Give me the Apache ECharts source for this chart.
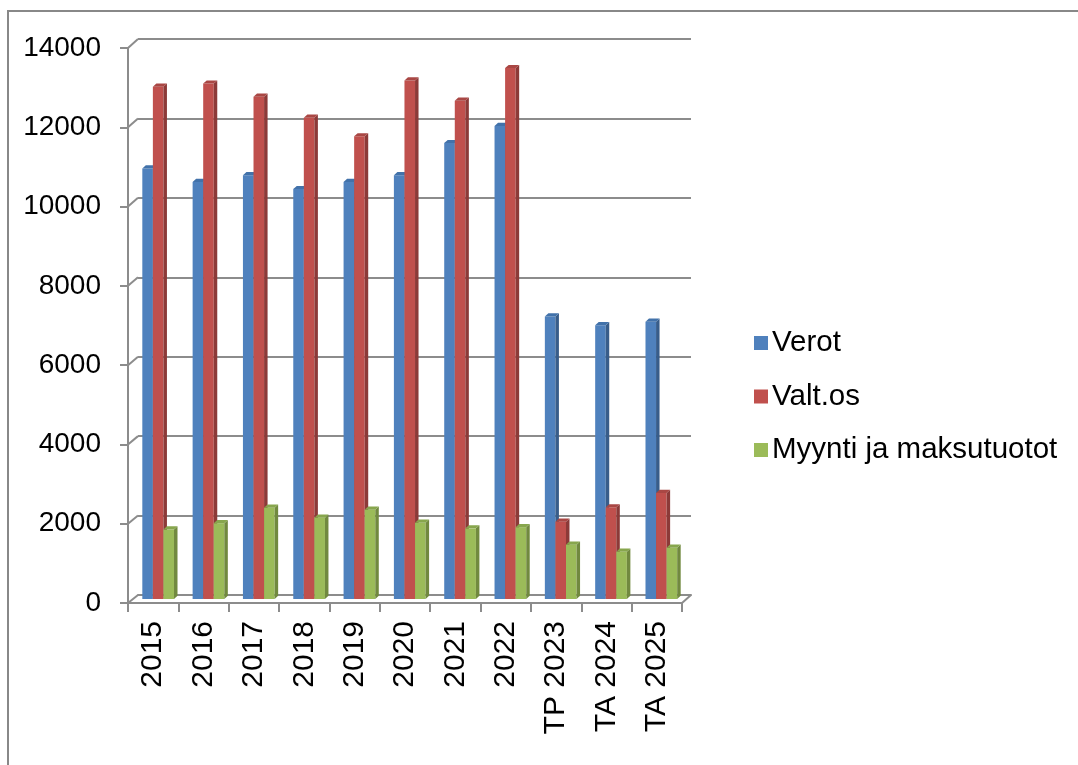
<!DOCTYPE html>
<html><head><meta charset="utf-8">
<script src="https://cdn.jsdelivr.net/npm/echarts@6/dist/echarts.min.js"></script>
<style>html,body{margin:0;padding:0;background:#fff}#c{width:1078px;height:765px}</style>
</head><body><div id="c"></div>
<script>
const categories = ['2015','2016','2017','2018','2019','2020','2021','2022','TP 2023','TA 2024','TA 2025'];
const seriesNames = ['Verot','Valt.os','Myynti ja maksutuotot'];
const verot = [10850, 10510, 10680, 10330, 10510, 10680, 11490, 11920, 7120, 6900, 6990];
const valtos = [12910, 12990, 12660, 12130, 11660, 13070, 12560, 13380, 1950, 2310, 2670];
const myynti = [1750, 1910, 2300, 2050, 2250, 1920, 1780, 1810, 1370, 1190, 1290];
const yTicks = [0, 2000, 4000, 6000, 8000, 10000, 12000, 14000];

const colors = ['#4F81BD', '#C0504D', '#9BBB59'];
const sides = ['#385D8A', '#8C3A38', '#71893F'];
const tops = ['#4272AA', '#A94744', '#87A64D'];
const FONT = '"Liberation Sans", Arial, sans-serif';

// grids: 0 front axes, 1 back wall, 2 bars (mid depth)
const G = [
  {left:128, top:48, right:1078-682, bottom:765-603},
  {left:138, top:39, right:1078-691, bottom:765-595},
  {left:133, top:43.5, right:1078-686.5, bottom:765-599}
];
const yMin = yTicks[0], yMax = yTicks[yTicks.length-1], yInt = yTicks[1]-yTicks[0];

function bar3d(idx, name, vals) {
  return {
    type:'custom', name, xAxisIndex:2, yAxisIndex:2,
    data: vals.map((v,i)=>[i,v]),
    encode:{x:0, y:1},
    itemStyle:{color:colors[idx]},
    renderItem(params, api){
      const i = api.value(0), v = api.value(1);
      const c = api.coord([i, v]);
      const b = api.coord([i, 0]);
      const band = api.size([1, 0])[0];
      const w = band * 0.21;
      const d = 3.5, dy = 3.2;
      const x = c[0] - 1.5*w + idx*w;
      const y = c[1], yb = b[1];
      return {type:'group', children:[
        {type:'rect', shape:{x:x, y:y, width:w, height:yb-y}, style:{fill:colors[idx]}},
        {type:'polygon', shape:{points:[[x+w,y],[x+w+d,y-dy],[x+w+d,yb-dy],[x+w,yb]]}, style:{fill:sides[idx]}},
        {type:'polygon', shape:{points:[[x,y],[x+w,y],[x+w+d,y-dy],[x+d,y-dy]]}, style:{fill:tops[idx]}}
      ]};
    }
  };
}

const chart = echarts.init(document.getElementById('c'), null, {renderer:'canvas'});
const gridLineColor = '#8C8C8C';
const option = {
  animation:false,
  color: colors,
  textStyle:{fontFamily:FONT},
  grid: G.map(g=>Object.assign({containLabel:false}, g)),
  legend:{
    orient:'vertical', left:749, top:323, itemGap:23.5,
    itemWidth:14, itemHeight:14, icon:'rect',
    textStyle:{fontFamily:FONT, fontSize:29.5, color:'#000', lineHeight:28, padding:[0,0,0,-1]},
    data: seriesNames
  },
  xAxis:[
    {type:'category', gridIndex:0, data:categories, boundaryGap:true,
     axisLine:{show:true, lineStyle:{color:gridLineColor, width:2}},
     axisTick:{show:true, length:9, lineStyle:{color:gridLineColor, width:2}},
     axisLabel:{rotate:90, margin:18, fontSize:30, color:'#000', fontFamily:FONT, padding:[0,0,18,0], interval:0},
     splitLine:{show:false}},
    {type:'category', gridIndex:1, data:categories,
     axisLine:{show:true, lineStyle:{color:gridLineColor, width:2}},
     axisTick:{show:false}, axisLabel:{show:false}, splitLine:{show:false}},
    {type:'category', gridIndex:2, data:categories, show:false}
  ],
  yAxis:[
    {type:'value', gridIndex:0, min:yMin, max:yMax, interval:yInt,
     axisLine:{show:true, lineStyle:{color:gridLineColor, width:2}},
     axisTick:{show:true, inside:false, length:8, lineStyle:{color:gridLineColor, width:2}},
     axisLabel:{margin:27, fontSize:28, color:'#000', fontFamily:FONT, formatter:(v)=>String(v)},
     splitLine:{show:false}},
    {type:'value', gridIndex:1, min:yMin, max:yMax, interval:yInt,
     axisLine:{show:false}, axisTick:{show:false}, axisLabel:{show:false},
     splitLine:{show:true, lineStyle:{color:gridLineColor, width:2}}},
    {type:'value', gridIndex:2, min:yMin, max:yMax, interval:yInt, show:false, splitLine:{show:false}}
  ],
  series:[
    bar3d(0, seriesNames[0], verot),
    bar3d(1, seriesNames[1], valtos),
    bar3d(2, seriesNames[2], myynti)
  ]
};
chart.setOption(option);

// 3D connector lines between front axis and back wall + outer border
const gfx = [];
yTicks.forEach(v=>{
  const yf = chart.convertToPixel({yAxisIndex:0}, v);
  const yb = chart.convertToPixel({yAxisIndex:1}, v);
  gfx.push({type:'line', shape:{x1:G[0].left, y1:yf, x2:G[1].left, y2:yb}, style:{stroke:gridLineColor, lineWidth:2}, silent:true});
});
const yf0 = chart.convertToPixel({yAxisIndex:0}, 0);
const yb0 = chart.convertToPixel({yAxisIndex:1}, 0);
gfx.push({type:'line', shape:{x1:1078-G[0].right, y1:yf0, x2:1078-G[1].right, y2:yb0}, style:{stroke:gridLineColor, lineWidth:2}, silent:true});
gfx.push({type:'rect', shape:{x:8, y:11, width:1200, height:900}, style:{fill:null, stroke:'#888', lineWidth:2}, silent:true, z:-1});
chart.setOption({graphic:gfx});
</script>
</body></html>
